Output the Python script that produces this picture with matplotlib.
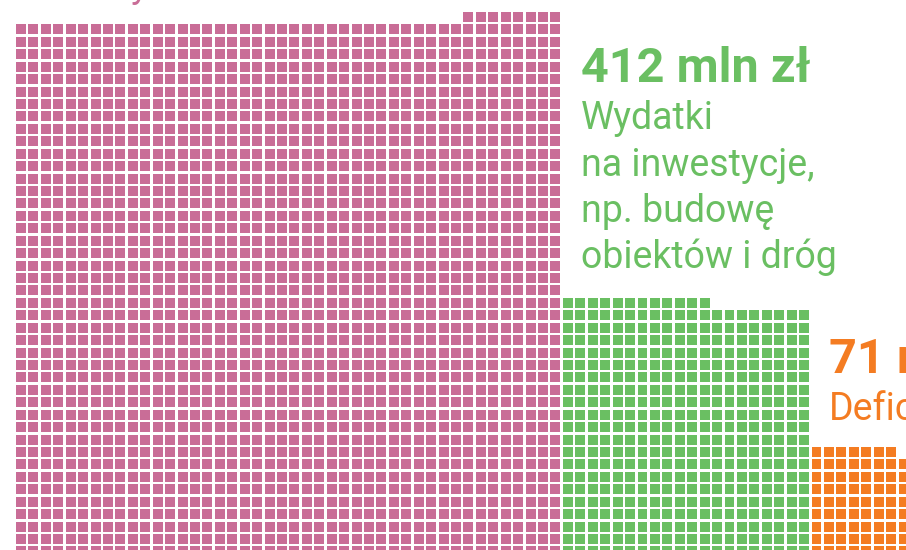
import matplotlib.pyplot as plt
from matplotlib.patches import Rectangle
from matplotlib.collections import PatchCollection

# one square = 1 mln zł
values = [1900, 412, 71]
columns = [44, 20, 8]
partial_side = ['right', 'left', 'left']
colors = ['#c96d97', '#6abf62', '#f47c22']

big_labels = ['412 mln zł', '71 mln zł']
small_labels = [['Wydatki', 'na inwestycje,', 'np. budowę', 'obiektów i dróg'],
                ['Deficyt']]

W, H = 906, 550
pitch = 12.43          # px per cell
x0, y0 = 16, 12        # top-left of the first cell (px)
bottom_row = 43
cell = 0.80

fig = plt.figure(figsize=(W / 100, H / 100), dpi=100)
ax = fig.add_axes([0, 0, 1, 1])
ax.set_xlim(-x0 / pitch, (W - x0) / pitch)
ax.set_ylim((H - y0) / pitch, -y0 / pitch)
ax.axis('off')

col_start = 0
for v, ncol, side, c in zip(values, columns, partial_side, colors):
    full_rows, rest = divmod(v, ncol)
    rects = []
    for r in range(full_rows):
        row = bottom_row - r
        for k in range(ncol):
            rects.append(Rectangle((col_start + k, row), cell, cell))
    row = bottom_row - full_rows
    for k in range(rest):
        kk = k if side == 'left' else ncol - rest + k
        rects.append(Rectangle((col_start + kk, row), cell, cell))
    ax.add_collection(PatchCollection(rects, facecolor=c, edgecolor='none'))
    col_start += ncol

def px(x, y):
    return x / W, 1 - y / H

big = dict(fontsize=35, family='Roboto', fontweight='bold', va='baseline')
small = dict(fontsize=27, family='Roboto', fontweight='normal', va='baseline')

# label of the first block, cut off by the top edge
fig.text(*px(131, -3), 'y', color=colors[0], **small)

fig.text(*px(581, 82), big_labels[0], color=colors[1], **big)
for i, line in enumerate(small_labels[0]):
    fig.text(*px(581, 129 + i * 46.5), line, color=colors[1], **small)

fig.text(*px(829, 373), big_labels[1], color=colors[2], **big)
fig.text(*px(829, 420), small_labels[1][0], color=colors[2], **small)

fig.savefig('out.png', dpi=100)
